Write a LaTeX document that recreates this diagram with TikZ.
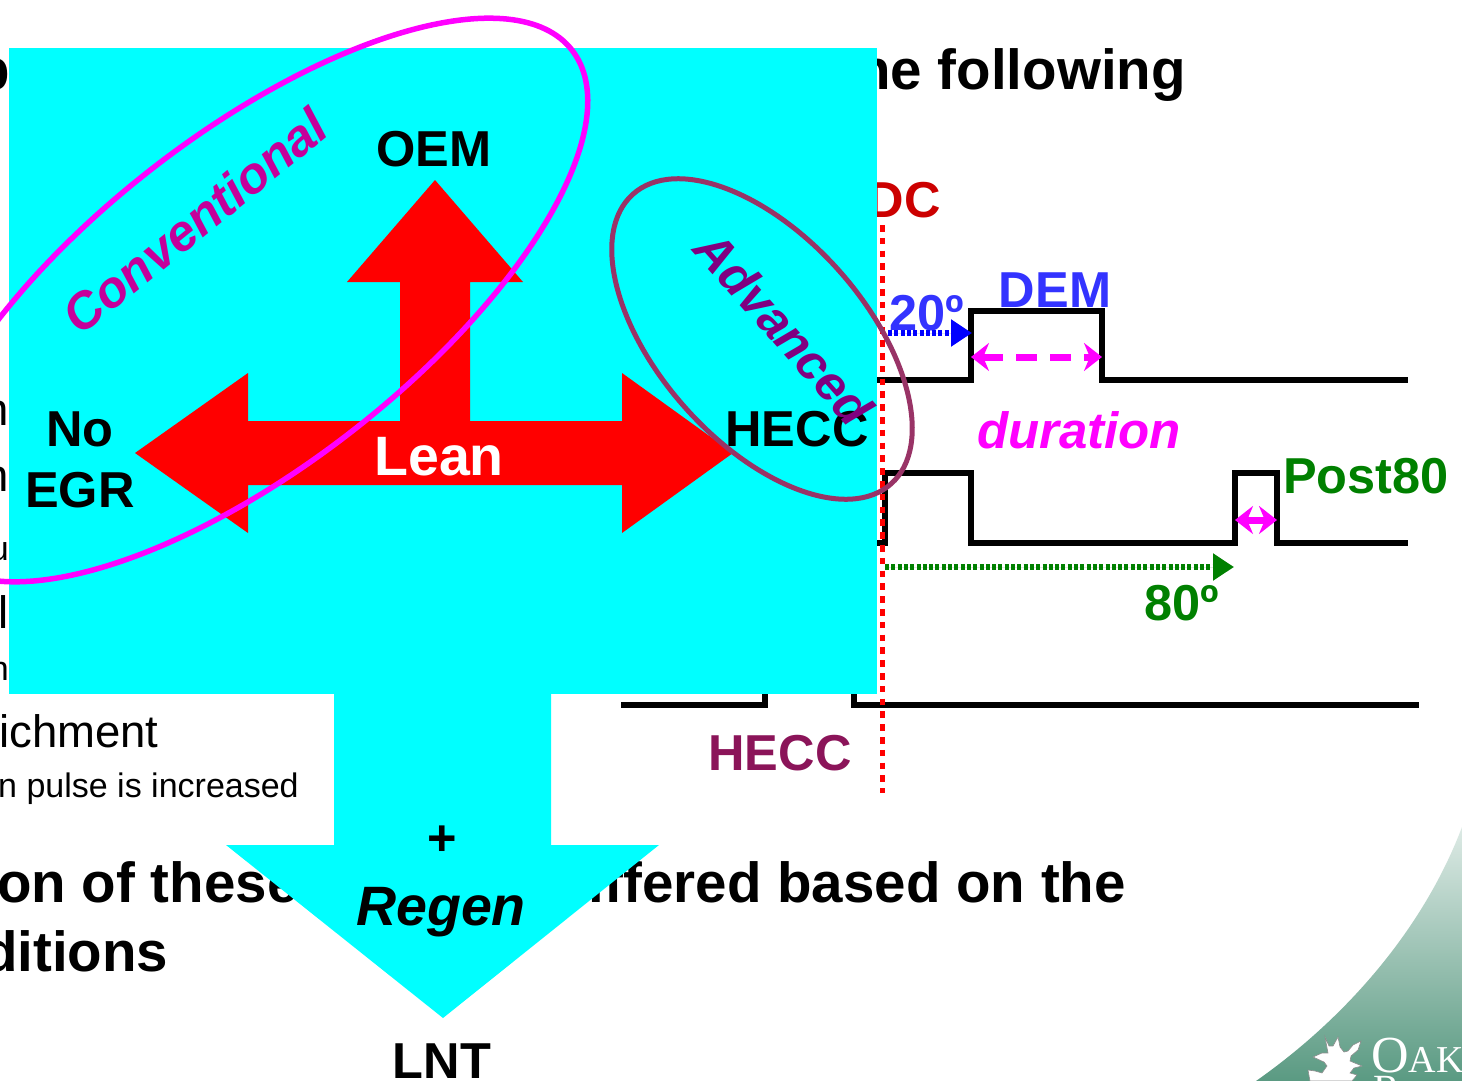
\documentclass[tikz,border=0pt]{standalone}
\usepackage{fontspec}
\setmainfont{Liberation Sans}
\newfontfamily\oakfont{Liberation Serif}
\usetikzlibrary{arrows.meta}
\newcommand{\fsz}[1]{\fontsize{#1}{#1}\selectfont}
\definecolor{aqua}{HTML}{00FFFF}
\definecolor{hotpink}{HTML}{FF00FF}
\definecolor{conv}{HTML}{C4009A}
\definecolor{advtext}{HTML}{800080}
\definecolor{demblue}{HTML}{3333FF}
\definecolor{heccred}{HTML}{8B1459}
\definecolor{advring}{HTML}{993366}
\definecolor{oaktop}{HTML}{DDEAE5}
\definecolor{oakbot}{HTML}{5A9A82}

\begin{document}
\begin{tikzpicture}[x=1pt, y=-1pt, inner sep=0pt,
  lab/.style={font=\fsz{50.5}\bfseries, anchor=base},
  head/.style={font=\fsz{56.5}\bfseries},
  body/.style={font=\fsz{45.5}, anchor=base west},
  small/.style={font=\fsz{34}, anchor=base west},
  pulse/.style={draw=black, line width=5.5pt, line join=miter},
  dur/.style={draw=hotpink, line width=7pt, {Stealth[length=18pt, width=28pt]}-{Stealth[length=18pt, width=28pt]}},
  lag/.style={line width=5.5pt, dash pattern=on 4pt off 2.3pt, -{Triangle[length=21pt, width=26pt]}},
  block/.style={fill=red, draw=none}]
\useasboundingbox (0,0) rectangle (1462,1081);
\fill[white] (0,0) rectangle (1462,1081);
% slide underneath
\shade[top color=oaktop, bottom color=oakbot] (1256,1081) .. controls (1350,1015) and (1425,925) .. (1462,827) -- (1462,1081) -- cycle;
\fill[white, draw=black!45, line width=0.6pt] (1325,1037) -- (1329,1046) -- (1333,1046) -- (1338,1037) -- (1340,1047) -- (1344,1052) -- (1348,1051) -- (1353,1045) -- (1361,1041) -- (1358,1050) -- (1351,1056) -- (1350,1061) -- (1362,1066) -- (1354,1068) -- (1350,1073) -- (1357,1075) -- (1352,1081) -- (1310,1081) -- (1308,1070) -- (1315,1071) -- (1322,1073) -- (1327,1066) -- (1324,1062) -- (1313,1057) -- (1322,1053) -- (1328,1053) -- cycle;
\node[anchor=base west, text=white, font=\oakfont\fsz{52}] (oak) at (1371,1072) {O\fsz{38}AK};
\node[anchor=base west, text=white, font=\oakfont\fsz{40}] (ridge) at (1373,1102) {R};

\node[head, anchor=base east] (title) at (1186,89) {ne following};
\node[head, anchor=base west] (titlep) at (-25,89) {p};
\node[head, anchor=base west] (these) at (-3,902) {on of these};
\node[head, anchor=base east] (based) at (1126,902) {iffered based on the};
\node[head, anchor=base west] (ditions) at (-17,971) {ditions};
\node[body] (rich) at (-1,747) {ichment};
\node[small] (inj) at (-2,797) {n pulse is increased};
\node[body, anchor=base east] (b1) at (9,425) {n};
\node[body, anchor=base east] (b2) at (9,491) {n};
\node[small, anchor=base east] (b3) at (9,560) {u};
\node[body, anchor=base east] (b4) at (9,628) {l};
\node[small, anchor=base east] (b5) at (9,680) {n};

% injection traces
\draw[pulse] (860,380) -- (971,380) -- (971,311) -- (1102,311) -- (1102,380) -- (1408,380);
\draw[pulse] (870,543) -- (885,543) -- (885,473) -- (971,473) -- (971,543) -- (1235,543) -- (1235,473) -- (1277,473) -- (1277,543) -- (1408,543);
\draw[pulse] (621,705) -- (765,705) -- (765,680);
\draw[pulse] (854,680) -- (854,705) -- (1419,705);
\draw[red, line width=5pt, dash pattern=on 6.5pt off 6.3pt] (882,225) -- (882,793);

\node[lab, text=demblue] (dem) at (1055,307) {DEM};
\node[lab, text=demblue] (twenty) at (927,330) {20º};
\node[lab, text=hotpink, font=\fsz{51}\bfseries\itshape] (duration) at (1079,448) {duration};
\node[lab, text=green!50!black] (post) at (1366,493) {Post80};
\node[lab, text=green!50!black] (eighty) at (1182,620) {80º};
\node[lab, text=heccred] (hecclab) at (780,770) {HECC};
\node[lab, text=red!80!black, anchor=base east] (dc) at (941,217) {DC};

\draw[lag, draw=blue, fill=blue] (888,333) -- (972,333);
\draw[lag, draw=green!50!black, fill=green!50!black] (885,567) -- (1234,567);
\draw[dur, dash pattern=on 21pt off 13pt] (971,357) -- (1102,357);
\draw[dur] (1235,520) -- (1277,520);

% cyan panel
\fill[aqua] (9,48) rectangle (877,694);
\fill[aqua] (334,694) -- (334,845) -- (226,845) -- (443,1018) -- (659,845) -- (551,845) -- (551,694) -- cycle;

% lean arrows
\fill[block] (435,180) -- (523,282) -- (470,282) -- (470,430) -- (400,430) -- (400,282) -- (347,282) -- cycle;
\fill[block] (135,453) -- (248,373) -- (248,421) -- (622,421) -- (622,373) -- (733,453) -- (622,533) -- (622,485) -- (248,485) -- (248,533) -- cycle;

\node[lab] (oem) at (434,166) {OEM};
\node[lab] (noegr) at (80,446) {No};
\node[lab] (egr) at (80,507) {EGR};
\node[lab] (hecc) at (797,446) {HECC};
\node[lab, text=white, font=\fsz{55.5}\bfseries] (lean) at (439,475) {Lean};
\node[lab] (plus) at (442,855) {+};
\node[lab, font=\fsz{55.5}\bfseries\itshape] (regen) at (441,925) {Regen};
\node[lab] (lnt) at (442,1078) {LNT};

% regions
\draw[hotpink, line width=5.5pt, shift={(252,300)}, rotate=38] (0,0) ellipse (406 and 165);
\draw[advring, line width=5pt, shift={(762,339)}, rotate=-48.3] (0,0) ellipse (194 and 103);
\node[text=conv, font=\fsz{51}\bfseries\itshape, rotate=39] (conv) at (195,221) {Conventional};
\node[text=advtext, font=\fsz{50}\bfseries\itshape, rotate=-48.5] (adv) at (784,328) {Advanced};
\end{tikzpicture}
\end{document}
